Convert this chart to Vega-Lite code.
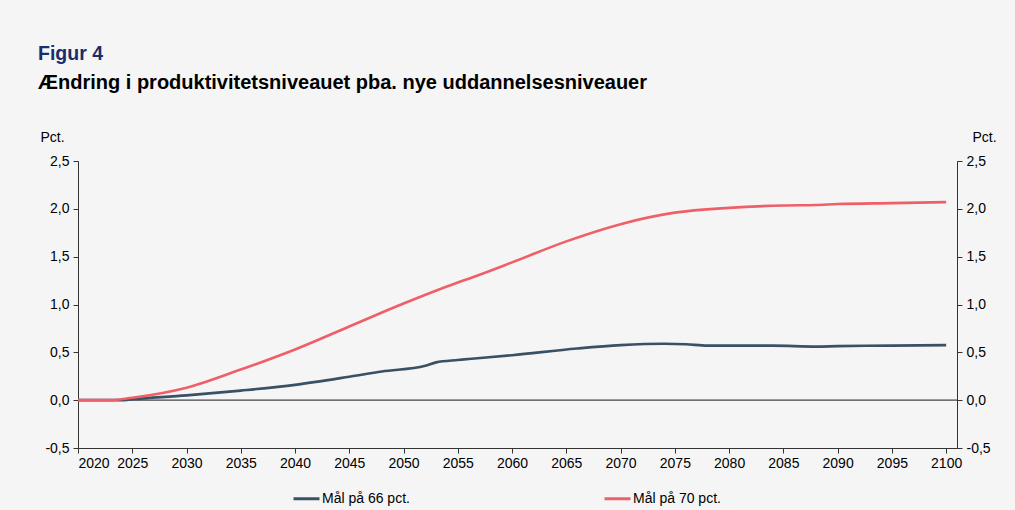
{
  "$schema": "https://vega.github.io/schema/vega-lite/v6.json",
  "width": 879,
  "height": 287,
  "autosize": "none",
  "padding": {"left": 78, "top": 161, "right": 58, "bottom": 62},
  "background": "#f5f5f5",
  "config": {
    "font": "Liberation Sans",
    "view": {"stroke": null},
    "axis": {"grid": false, "labelFont": "Liberation Sans", "labelFontSize": 14, "labelColor": "#000000", "domainColor": "#333333", "tickColor": "#333333", "tickSize": 5, "titleFont": "Liberation Sans", "titleFontWeight": "normal", "titleFontSize": 14, "titleColor": "#000000"}
  },
  "title": {
    "text": "Figur 4",
    "subtitle": "Ændring i produktivitetsniveauet pba. nye uddannelsesniveauer",
    "anchor": "start",
    "frame": "group",
    "dx": -40,
    "fontSize": 19.5,
    "font": "Liberation Sans",
    "fontWeight": "bold",
    "color": "#1b2d6b",
    "subtitleFont": "Liberation Sans",
    "subtitleFontSize": 20,
    "subtitleFontWeight": "bold",
    "subtitleColor": "#000000",
    "subtitlePadding": 9,
    "offset": 36
  },
  "datasets": {
    "series": [
      {"year": 2020, "value": 0.0, "serie": "Mål på 66 pct."},
      {"year": 2022, "value": 0.0, "serie": "Mål på 66 pct."},
      {"year": 2024, "value": 0.0, "serie": "Mål på 66 pct."},
      {"year": 2025, "value": 0.01, "serie": "Mål på 66 pct."},
      {"year": 2030, "value": 0.05, "serie": "Mål på 66 pct."},
      {"year": 2035, "value": 0.1, "serie": "Mål på 66 pct."},
      {"year": 2040, "value": 0.16, "serie": "Mål på 66 pct."},
      {"year": 2045, "value": 0.245, "serie": "Mål på 66 pct."},
      {"year": 2048, "value": 0.3, "serie": "Mål på 66 pct."},
      {"year": 2052, "value": 0.36, "serie": "Mål på 66 pct."},
      {"year": 2053, "value": 0.395, "serie": "Mål på 66 pct."},
      {"year": 2055, "value": 0.42, "serie": "Mål på 66 pct."},
      {"year": 2056, "value": 0.43, "serie": "Mål på 66 pct."},
      {"year": 2060, "value": 0.47, "serie": "Mål på 66 pct."},
      {"year": 2066, "value": 0.54, "serie": "Mål på 66 pct."},
      {"year": 2070, "value": 0.575, "serie": "Mål på 66 pct."},
      {"year": 2074, "value": 0.59, "serie": "Mål på 66 pct."},
      {"year": 2076, "value": 0.585, "serie": "Mål på 66 pct."},
      {"year": 2078, "value": 0.57, "serie": "Mål på 66 pct."},
      {"year": 2080, "value": 0.57, "serie": "Mål på 66 pct."},
      {"year": 2084, "value": 0.57, "serie": "Mål på 66 pct."},
      {"year": 2088, "value": 0.56, "serie": "Mål på 66 pct."},
      {"year": 2090, "value": 0.565, "serie": "Mål på 66 pct."},
      {"year": 2095, "value": 0.57, "serie": "Mål på 66 pct."},
      {"year": 2100, "value": 0.575, "serie": "Mål på 66 pct."},
      {"year": 2020, "value": 0.0, "serie": "Mål på 70 pct."},
      {"year": 2022, "value": 0.0, "serie": "Mål på 70 pct."},
      {"year": 2023, "value": 0.0, "serie": "Mål på 70 pct."},
      {"year": 2025, "value": 0.025, "serie": "Mål på 70 pct."},
      {"year": 2030, "value": 0.13, "serie": "Mål på 70 pct."},
      {"year": 2035, "value": 0.32, "serie": "Mål på 70 pct."},
      {"year": 2040, "value": 0.53, "serie": "Mål på 70 pct."},
      {"year": 2045, "value": 0.77, "serie": "Mål på 70 pct."},
      {"year": 2050, "value": 1.01, "serie": "Mål på 70 pct."},
      {"year": 2055, "value": 1.23, "serie": "Mål på 70 pct."},
      {"year": 2056, "value": 1.27, "serie": "Mål på 70 pct."},
      {"year": 2060, "value": 1.44, "serie": "Mål på 70 pct."},
      {"year": 2065, "value": 1.66, "serie": "Mål på 70 pct."},
      {"year": 2070, "value": 1.84, "serie": "Mål på 70 pct."},
      {"year": 2075, "value": 1.96, "serie": "Mål på 70 pct."},
      {"year": 2080, "value": 2.01, "serie": "Mål på 70 pct."},
      {"year": 2085, "value": 2.035, "serie": "Mål på 70 pct."},
      {"year": 2088, "value": 2.04, "serie": "Mål på 70 pct."},
      {"year": 2090, "value": 2.05, "serie": "Mål på 70 pct."},
      {"year": 2095, "value": 2.06, "serie": "Mål på 70 pct."},
      {"year": 2100, "value": 2.07, "serie": "Mål på 70 pct."}
    ],
    "zero": [{"year": 2020, "value": 0}, {"year": 2101, "value": 0}]
  },
  "layer": [
    {
      "data": {"name": "zero"},
      "mark": {"type": "line", "color": "#444444", "strokeWidth": 1.2},
      "encoding": {
        "x": {"field": "year", "type": "quantitative", "scale": {"domain": [2020, 2101], "nice": false, "zero": false},
          "axis": {"values": [2020, 2025, 2030, 2035, 2040, 2045, 2050, 2055, 2060, 2065, 2070, 2075, 2080, 2085, 2090, 2095, 2100], "format": "d", "title": null, "labelPadding": 3}},
        "y": {"field": "value", "type": "quantitative", "scale": {"domain": [-0.5, 2.5], "nice": false, "zero": false},
          "axis": {"orient": "right", "values": [-0.5, 0, 0.5, 1, 1.5, 2, 2.5], "labelExpr": "replace(replace(format(datum.value, '.1f'), '.', ','), '−', '-')", "title": "Pct.", "titleAngle": 0, "titleAlign": "left", "titleBaseline": "middle", "titleX": 15, "titleY": -24, "labelPadding": 4}}
      }
    },
    {
      "data": {"name": "series"},
      "mark": {"type": "line", "strokeWidth": 2.6, "interpolate": "monotone"},
      "encoding": {
        "x": {"field": "year", "type": "quantitative"},
        "y": {"field": "value", "type": "quantitative", "scale": {"domain": [-0.5, 2.5], "nice": false, "zero": false},
          "axis": {"orient": "left", "values": [-0.5, 0, 0.5, 1, 1.5, 2, 2.5], "labelExpr": "replace(replace(format(datum.value, '.1f'), '.', ','), '−', '-')", "title": "Pct.", "titleAngle": 0, "titleAlign": "left", "titleBaseline": "middle", "titleX": -38, "titleY": -24, "labelPadding": 4}},
        "color": {"field": "serie", "type": "nominal",
          "scale": {"domain": ["Mål på 66 pct.", "Mål på 70 pct."], "range": ["#3a5064", "#ef5f68"]},
          "legend": {"title": null, "orient": "none", "legendX": 214, "legendY": 323, "direction": "horizontal", "symbolType": "stroke", "symbolStrokeWidth": 3, "symbolSize": 676, "labelFont": "Liberation Sans", "labelFontSize": 14, "labelColor": "#000000", "labelOffset": 1, "columnPadding": 188}}
      }
    }
  ],
  "resolve": {"scale": {"y": "independent"}}
}
